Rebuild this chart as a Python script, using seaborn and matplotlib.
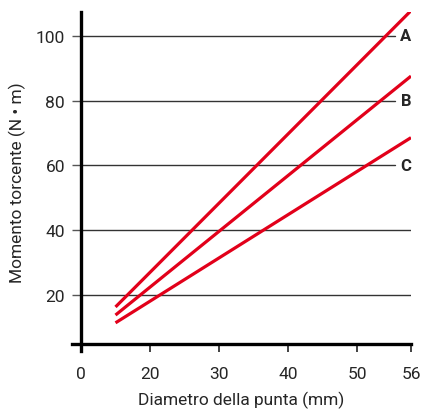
import numpy as np
import pandas as pd
import matplotlib
matplotlib.use("Agg")
import matplotlib.pyplot as plt
import seaborn as sns

# data
series = ["A", "B", "C"]
diam_start = [10, 10, 10]
diam_end = [56, 56, 56]
torque_start = [16.3, 13.8, 11.4]
torque_end = [107.8, 87.6, 68.6]

x_ticks = [0, 20, 30, 40, 50, 56]
x_ticklabels = ["0", "20", "30", "40", "50", "56"]
y_ticks = [20, 40, 60, 80, 100]

rows = []
for s, x0, x1, y0, y1 in zip(series, diam_start, diam_end, torque_start, torque_end):
    rows.append({"serie": s, "diam": x0, "coppia": y0})
    rows.append({"serie": s, "diam": x1, "coppia": y1})
df = pd.DataFrame(rows)

# broken x axis: 0 -> 20 is squeezed into one slot, 50 -> 56 slightly stretched
real_pts = np.array([-20, 0, 20, 50, 56, 62])
pos_pts = np.array([-1, 0, 1, 4, 4.78, 5.56])

def fwd(v):
    return np.interp(v, real_pts, pos_pts)

def inv(p):
    return np.interp(p, pos_pts, real_pts)

sns.set_style("white")
plt.rcParams["font.family"] = ["Roboto", "DejaVu Sans"]

fig = plt.figure(figsize=(4.21, 4.10), dpi=100)
ax = fig.add_axes([72 / 421, 1 - 352 / 410, (411 - 72) / 421, (352 - 13) / 410])
ax.set_xscale("function", functions=(fwd, inv))

red = "#e2001a"
sns.lineplot(data=df, x="diam", y="coppia", hue="serie", palette=[red] * 3,
             linewidth=2.3, legend=False, ax=ax, solid_capstyle="butt")

ax.set_xlim(-2.6, 56)
ax.set_ylim(2.7, 107.4)

# grid lines; the top three stop short to leave room for the letters
for y in y_ticks:
    x_end = 54.2 if y >= 60 else 56
    ax.plot([0, x_end], [y, y], color="#333333", lw=1.0, zorder=1)

for s, y in zip(series, [100, 80, 60]):
    ax.text(56, y, s, ha="right", va="center", fontsize=12, fontweight="bold")

for side in ["top", "right"]:
    ax.spines[side].set_visible(False)
ax.spines["left"].set_position(("data", 0))
ax.spines["bottom"].set_position(("data", 4.9))
for side in ["left", "bottom"]:
    ax.spines[side].set_linewidth(2.4)
    ax.spines[side].set_color("black")

ax.set_xticks(x_ticks)
ax.set_xticklabels(x_ticklabels)
ax.set_yticks(y_ticks)
ax.tick_params(axis="x", direction="out", length=6, width=1.3, color="#333333",
               pad=10, labelsize=12.5, bottom=True)
ax.tick_params(axis="y", direction="out", length=6.5, width=1, color="#555555",
               pad=5, labelsize=12.5, left=True)
ax.xaxis.set_minor_locator(plt.NullLocator())

ax.set_xlabel("Diametro della punta (mm)", fontsize=12.5, labelpad=7)
ax.set_ylabel("Momento torcente (N • m)", fontsize=12.5, labelpad=7)

fig.savefig("out.png", dpi=100)
